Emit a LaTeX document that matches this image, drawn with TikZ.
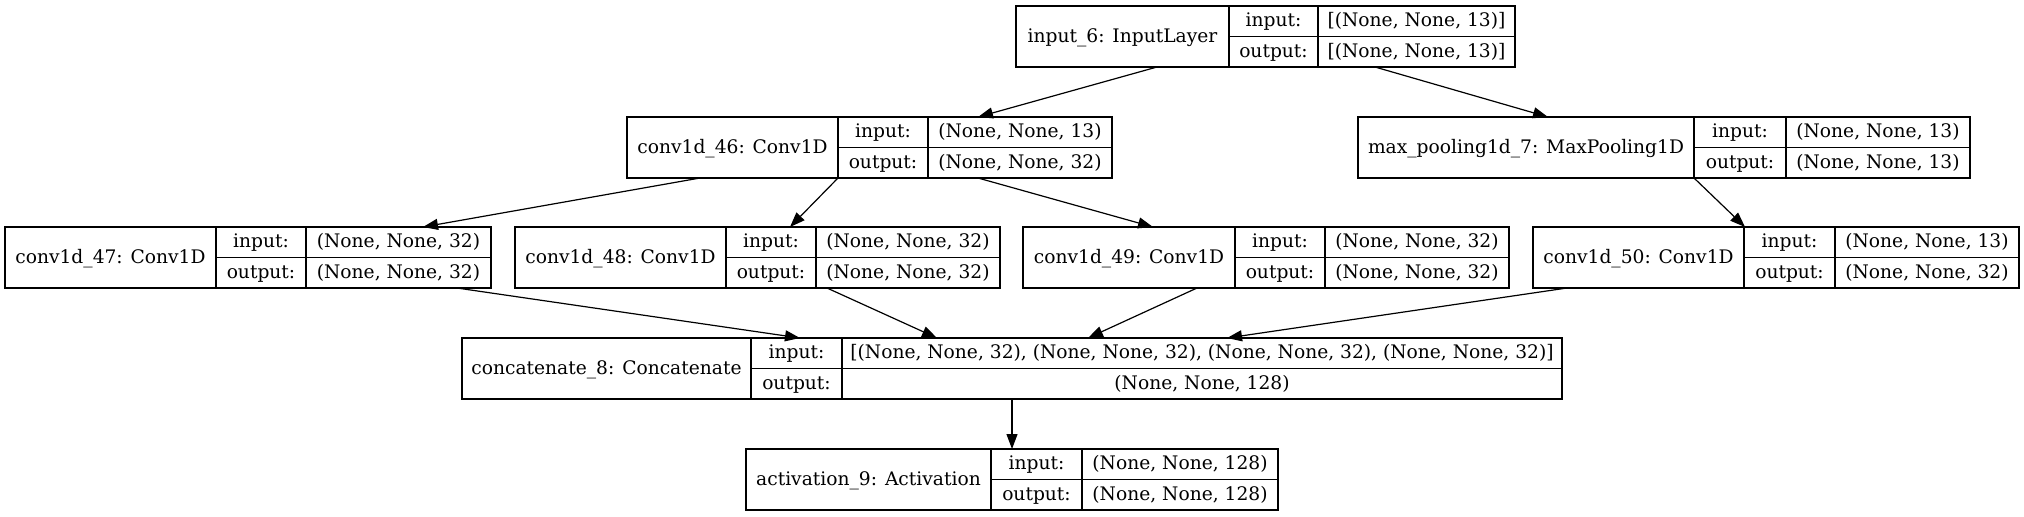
\documentclass[tikz,border=0pt]{standalone}
\usepackage{fontspec}
\setmainfont{DejaVu Serif}
\usetikzlibrary{arrows.meta,fit,calc}
\tikzset{
  x=0.5pt, y=-0.5pt,
  layerbox/.style={draw, line width=0.55pt, inner sep=0pt, outer sep=0pt},
  cell/.style={line width=0.55pt},
  txt/.style={inner sep=0pt, anchor=base, font=\fontsize{9.33pt}{11pt}\selectfont},
  edge/.style={line width=0.6pt, -{Triangle[length=7.5pt,width=5.5pt]}},
}
% name, x0, x1, x2, x3, y0, label, input, output
\newcommand\kerlayer[9]{%
  \pgfmathsetmacro\kyb{#6+61}%
  \pgfmathsetmacro\kym{#6+30.5}%
  \pgfmathsetmacro\kya{#6+20.75}%
  \pgfmathsetmacro\kyc{#6+51.25}%
  \pgfmathsetmacro\kyl{#6+36}%
  \pgfmathsetmacro\kxa{(#2+#3)/2}%
  \pgfmathsetmacro\kxb{(#3+#4)/2}%
  \pgfmathsetmacro\kxc{(#4+#5)/2}%
  \node[layerbox, fit={(#2,#6) (#5,\kyb)}] (#1) {};
  \draw[cell] (#3,#6) -- (#3,\kyb);
  \draw[cell] (#4,#6) -- (#4,\kyb);
  \draw[cell] (#3,\kym) -- (#5,\kym);
  \node[txt] (#1-l) at (\kxa,\kyl) {#7};
  \node[txt] (#1-ik) at (\kxb,\kya) {input:};
  \node[txt] (#1-ok) at (\kxb,\kyc) {output:};
  \node[txt] (#1-iv) at (\kxc,\kya) {#8};
  \node[txt] (#1-ov) at (\kxc,\kyc) {#9};
}
\begin{document}
\begin{tikzpicture}
\useasboundingbox (0,0) rectangle (2024,516);
\kerlayer{in6}{1016}{1229}{1318}{1515}{6}{input\_6: InputLayer}{[(None, None, 13)]}{[(None, None, 13)]}
\kerlayer{c46}{627}{838}{928}{1112}{117}{conv1d\_46: Conv1D}{(None, None, 13)}{(None, None, 32)}
\kerlayer{mp7}{1358}{1694}{1786}{1970}{117}{max\_pooling1d\_7: MaxPooling1D}{(None, None, 13)}{(None, None, 13)}
\kerlayer{c47}{5}{216}{306}{491}{227}{conv1d\_47: Conv1D}{(None, None, 32)}{(None, None, 32)}
\kerlayer{c48}{515}{726}{816}{1000}{227}{conv1d\_48: Conv1D}{(None, None, 32)}{(None, None, 32)}
\kerlayer{c49}{1023}{1235}{1325}{1509}{227}{conv1d\_49: Conv1D}{(None, None, 32)}{(None, None, 32)}
\kerlayer{c50}{1533}{1744}{1835}{2019}{227}{conv1d\_50: Conv1D}{(None, None, 13)}{(None, None, 32)}
\kerlayer{cat}{462}{751}{842}{1562}{338}{concatenate\_8: Concatenate}{[(None, None, 32), (None, None, 32), (None, None, 32), (None, None, 32)]}{(None, None, 128)}
\kerlayer{act}{746}{991}{1082}{1278}{449}{activation\_9: Activation}{(None, None, 128)}{(None, None, 128)}

\draw[edge] ($(in6.south west)+(141,0)$) -- ($(c46.north west)+(351,0)$);
\draw[edge] ($(in6.south west)+(359,0)$) -- ($(mp7.north west)+(190,0)$);
\draw[edge] ($(c46.south west)+(73,0)$) -- ($(c47.north west)+(418,0)$);
\draw[edge] ($(c46.south west)+(211,0)$) -- ($(c48.north west)+(275,0)$);
\draw[edge] ($(c46.south west)+(351,0)$) -- ($(c49.north west)+(130,0)$);
\draw[edge] ($(mp7.south west)+(336,0)$) -- ($(c50.north west)+(212,0)$);
\draw[edge] ($(c47.south west)+(452,0)$) -- ($(cat.north west)+(338,0)$);
\draw[edge] ($(c48.south west)+(312,0)$) -- ($(cat.north west)+(475,0)$);
\draw[edge] ($(c49.south west)+(174,0)$) -- ($(cat.north west)+(626,0)$);
\draw[edge] ($(c50.south west)+(34,0)$) -- ($(cat.north west)+(765,0)$);
\draw[edge] ($(cat.south west)+(550,0)$) -- ($(act.north west)+(266,0)$);
\end{tikzpicture}
\end{document}
